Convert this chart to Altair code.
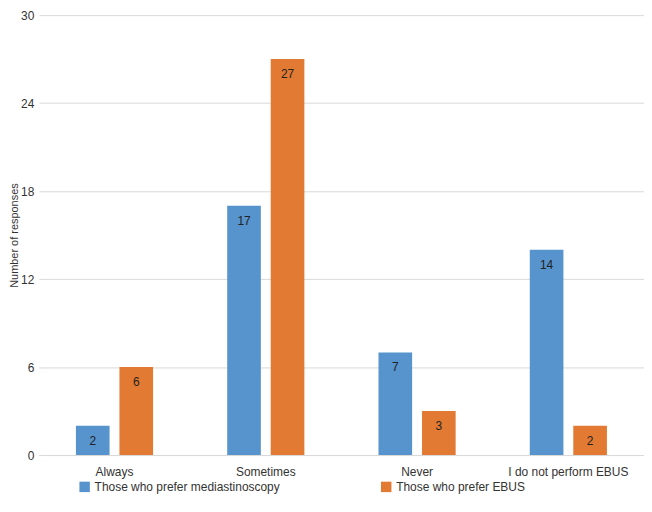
import altair as alt
import pandas as pd

categories = ["Always", "Sometimes", "Never", "I do not perform EBUS"]
series_names = ["Those who prefer mediastinoscopy", "Those who prefer EBUS"]
mediastinoscopy = [2, 17, 7, 14]
ebus = [6, 27, 3, 2]
y_ticks = [0, 6, 12, 18, 24, 30]
colors = ["#5794ce", "#e37a33"]

rows = []
for c, v in zip(categories, mediastinoscopy):
    rows.append({"category": c, "series": series_names[0], "value": v})
for c, v in zip(categories, ebus):
    rows.append({"category": c, "series": series_names[1], "value": v})
df = pd.DataFrame(rows)

FONT = "Liberation Sans"

x = alt.X("category:N", sort=categories, title=None,
          scale=alt.Scale(paddingInner=0.49, paddingOuter=0.245),
          axis=alt.Axis(labelAngle=0, ticks=False, domainColor="#d9d9d9",
                        labelPadding=12, labelFontSize=12, labelColor="#333333",
                        labelFont=FONT))
xoff = alt.XOffset("series:N", sort=series_names,
                   scale=alt.Scale(paddingInner=0.227, paddingOuter=0))

base = alt.Chart(df)

bars = base.mark_bar().encode(
    x=x,
    xOffset=xoff,
    y=alt.Y("value:Q", title="Number of responses",
            scale=alt.Scale(domain=[0, 30], nice=False),
            axis=alt.Axis(values=y_ticks, ticks=False, domain=False,
                          gridColor="#d9d9d9", labelFontSize=12,
                          labelColor="#333333", labelFont=FONT,
                          titleFont=FONT, titleFontSize=11,
                          titleFontWeight="normal", titleColor="#333333",
                          titlePadding=1, labelPadding=5)),
    color=alt.Color("series:N", sort=series_names,
                    scale=alt.Scale(domain=series_names, range=colors),
                    legend=alt.Legend(title=None, orient="none",
                                      direction="horizontal",
                                      legendX=40, legendY=468,
                                      symbolType="square", symbolSize=110,
                                      symbolStrokeWidth=0,
                                      labelFontSize=12, labelFont=FONT,
                                      labelColor="#333333",
                                      columnPadding=100, labelLimit=400)),
)

labels = base.mark_text(baseline="middle", dy=15, fontSize=12, font=FONT,
                        color="#222222").encode(
    x=x,
    xOffset=xoff,
    y="value:Q",
    text="value:Q",
)

chart = (bars + labels).properties(
    width=608, height=442, padding={"left": 0, "top": 0, "right": 0, "bottom": 0}
).configure_view(stroke=None)

chart.save("out.html", embed_options={"renderer": "svg", "actions": False})
